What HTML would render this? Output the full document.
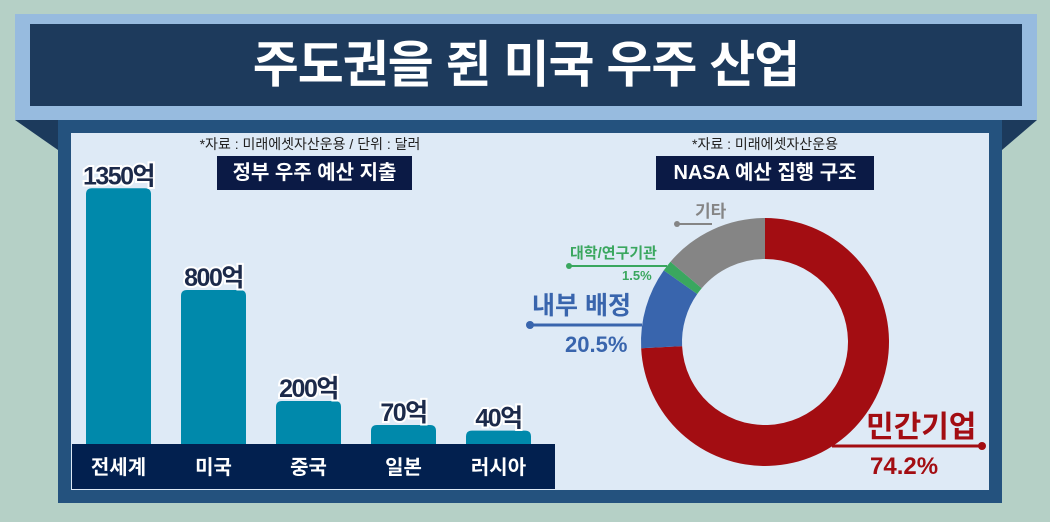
<!DOCTYPE html>
<html><head><meta charset="utf-8">
<style>
body{margin:0;width:1050px;height:522px;overflow:hidden;background:#b5d0c6;font-family:"Liberation Sans","Noto Sans CJK KR",sans-serif;}
.abs{position:absolute;}
</style></head>
<body>
<div class="abs" style="left:0;top:0;width:1050px;height:522px;background:#b5d0c6"></div>
<svg class="abs" style="left:0;top:0" width="1050" height="522">
  <polygon points="15,120 58,120 58,150" fill="#1c3a5c"/>
  <polygon points="1037,120 1002,120 1002,150" fill="#1c3a5c"/>
  <rect x="58" y="118" width="944" height="385" fill="#24527e"/>
  <rect x="71" y="133" width="918" height="357" fill="#deeaf6"/>
  <rect x="15" y="14" width="1022" height="106" fill="#97bbdf"/>
  <rect x="30" y="24" width="992" height="82" fill="#1d3a5c"/>
</svg>
<div class="abs" style="left:30px;top:24px;width:992px;height:82px;line-height:82px;text-align:center;color:#fff;font-size:50px;font-weight:bold;letter-spacing:-1px">주도권을 쥔 미국 우주 산업</div>
<div class="abs" style="left:160px;top:134px;width:300px;text-align:center;font-size:14px;color:#222">*자료 : 미래에셋자산운용 / 단위 : 달러</div>
<div class="abs" style="left:217px;top:156px;width:195px;height:34px;line-height:34px;background:#0b1a45;color:#fff;text-align:center;font-size:20px;font-weight:bold">정부 우주 예산 지출</div>
<div class="abs" style="left:640px;top:134px;width:250px;text-align:center;font-size:14px;color:#222">*자료 : 미래에셋자산운용</div>
<div class="abs" style="left:656px;top:156px;width:218px;height:34px;line-height:34px;background:#0b1a45;color:#fff;text-align:center;font-size:20px;font-weight:bold">NASA 예산 집행 구조</div>

<svg id="bars" class="abs" style="left:0;top:0" width="1050" height="522"></svg>
<svg id="donut" class="abs" style="left:0;top:0" width="1050" height="522"></svg>

<script>
const categories=["전세계","미국","중국","일본","러시아"];
const values=[1350,800,200,70,40];
const valueLabels=["1350억","800억","200억","70억","40억"];
const sliceNames=["민간기업","내부 배정","대학/연구기관","기타"];
const sliceValues=[74.2,10.6,1.4,13.8];
const sliceLabels=["74.2%","20.5%","1.5%",""];
const sliceColors=["#a30d12","#3965ad","#3aa75f","#858585"];

const NS="http://www.w3.org/2000/svg";
function mk(p,t,a){const e=document.createElementNS(NS,t);for(const k in a)e.setAttribute(k,a[k]);p.appendChild(e);return e;}
const bars=document.getElementById('bars');
const base=444;
function yScale(v){return 6+v*0.185;}
function xPos(i){return 86+i*95;}
categories.forEach((c,i)=>{
  const h=yScale(values[i]);
  const r=mk(bars,'path',{d:`M${xPos(i)},${base} V${base-h+6} Q${xPos(i)},${base-h} ${xPos(i)+6},${base-h} H${xPos(i)+59} Q${xPos(i)+65},${base-h} ${xPos(i)+65},${base-h+6} V${base} Z`,fill:'#0089ab'});
  
  
  const t=mk(bars,'text',{x:xPos(i)+32.5,y:base-h-4,'text-anchor':'middle','font-size':25,'font-weight':'bold',fill:'#1c2a4a',stroke:'#fff','stroke-width':4,'paint-order':'stroke','letter-spacing':'-1.5'});
  t.textContent=valueLabels[i];
  
  
});
const band=mk(bars,'rect',{x:72,y:444,width:483,height:45,fill:'#02204f'});


categories.forEach((c,i)=>{
  const t=mk(bars,'text',{x:xPos(i)+32.5,y:474,'text-anchor':'middle','font-size':20,'font-weight':'bold',fill:'#fff'});
  t.textContent=c;
  
  
});

const donut=document.getElementById('donut');
const cx=765,cy=342,R=124,r0=83;
const total=sliceValues.reduce((a,b)=>a+b,0);
function pt(a,rr){return [cx+rr*Math.sin(a),cy-rr*Math.cos(a)];}
let acc=0;
sliceValues.forEach((v,i)=>{
  const a0=acc/total*2*Math.PI;acc+=v;const a1=acc/total*2*Math.PI;
  const lg=(a1-a0)>Math.PI?1:0;
  const p1=pt(a0,R),p2=pt(a1,R),p3=pt(a1,r0),p4=pt(a0,r0);
  const s=mk(donut,'path',{d:`M${p1} A${R},${R} 0 ${lg} 1 ${p2} L${p3} A${r0},${r0} 0 ${lg} 0 ${p4} Z`,fill:sliceColors[i]});
  
  
});
function label(x,y,txt,size,col,anchor,name){const t=mk(donut,'text',{x:x,y:y,'font-size':size,'font-weight':'bold',fill:col,'text-anchor':anchor});t.textContent=txt;return t;}
mk(donut,'line',{x1:832,y1:446,x2:982,y2:446,stroke:sliceColors[0],'stroke-width':3});
mk(donut,'circle',{cx:982,cy:446,r:4,fill:sliceColors[0]});
label(866,437,sliceNames[0],30,sliceColors[0],'start','private-label');
label(870,474,sliceLabels[0],24,sliceColors[0],'start','private-value');
mk(donut,'line',{x1:530,y1:325,x2:642,y2:325,stroke:sliceColors[1],'stroke-width':3});
mk(donut,'circle',{cx:530,cy:325,r:4,fill:sliceColors[1]});
label(532,314,sliceNames[1],25,sliceColors[1],'start','internal-label');
label(565,352,sliceLabels[1],22,sliceColors[1],'start','internal-value');
mk(donut,'line',{x1:569,y1:266,x2:667,y2:266,stroke:sliceColors[2],'stroke-width':2});
mk(donut,'circle',{cx:569,cy:266,r:3,fill:sliceColors[2]});
label(570,258,sliceNames[2],15,sliceColors[2],'start','univ-label');
label(622,280,sliceLabels[2],13,sliceColors[2],'start','univ-value');
mk(donut,'line',{x1:677,y1:224,x2:712,y2:224,stroke:sliceColors[3],'stroke-width':2});
mk(donut,'circle',{cx:677,cy:224,r:3,fill:sliceColors[3]});
label(695,217,sliceNames[3],17,sliceColors[3],'start','other-label');
</script>
</body></html>
